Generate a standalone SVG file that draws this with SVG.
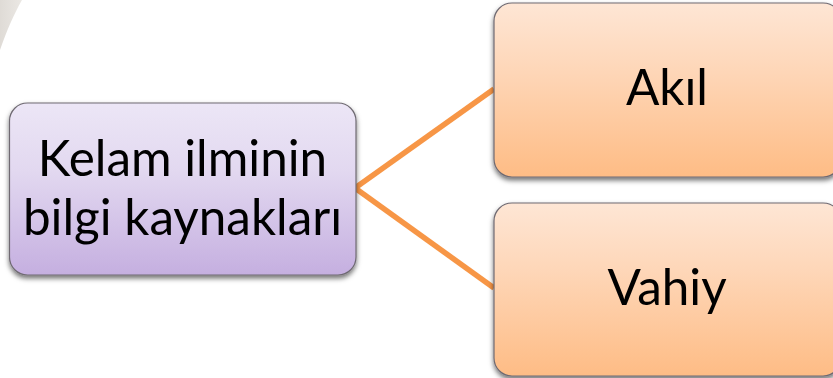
<svg xmlns="http://www.w3.org/2000/svg" width="833" height="378" viewBox="0 0 833 378">
<style>
.box{stroke:#6f6a72;stroke-width:1.2}
.t{font-family:Lato,"Liberation Sans",sans-serif;font-size:49.4px;fill:#000;text-anchor:middle}
.c{fill:none;stroke:#f79646;stroke-width:5.5;stroke-linecap:butt}
</style>
<defs>
<linearGradient id="p" x1="0" y1="0" x2="0" y2="1"><stop offset="0" stop-color="#ece6f6"/><stop offset="0.4" stop-color="#e2d8f0"/><stop offset="1" stop-color="#c5afe0"/></linearGradient>
<linearGradient id="o" x1="0" y1="0" x2="0" y2="1"><stop offset="0" stop-color="#fee6d5"/><stop offset="0.4" stop-color="#fed6b7"/><stop offset="1" stop-color="#febc85"/></linearGradient>
<linearGradient id="bg" x1="0" y1="0" x2="1" y2="0"><stop offset="0" stop-color="#dfdbd6"/><stop offset="1" stop-color="#ebe8e4"/></linearGradient>
<filter id="s" x="-10%" y="-10%" width="120%" height="125%"><feDropShadow dx="0" dy="3" stdDeviation="2.500" flood-color="#000" flood-opacity="0.55"/></filter>
</defs>
<rect width="833" height="378" fill="#fff"/>
<path d="M0 0H22C14 14 7 30 0 50Z" fill="url(#bg)"/>
<g id="connectors">
<path class="c" d="M355 188L494 89"/>
<path class="c" d="M355 188L494 288"/>
</g>
<g id="node-kelam">
<rect class="box" x="9.5" y="103" width="346.500" height="172" rx="18" fill="url(#p)" filter="url(#s)"/>
<text class="t" x="182.500" y="176">Kelam ilminin</text>
<text class="t" x="182.500" y="235">bilgi kaynakları</text>
</g>
<g id="node-akil">
<rect class="box" x="494" y="3" width="347" height="174" rx="18" fill="url(#o)" filter="url(#s)"/>
<text class="t" x="667" y="105">Akıl</text>
</g>
<g id="node-vahiy">
<rect class="box" x="494" y="203" width="347" height="173" rx="18" fill="url(#o)" filter="url(#s)"/>
<text class="t" x="667" y="305">Vahiy</text>
</g>
</svg>
